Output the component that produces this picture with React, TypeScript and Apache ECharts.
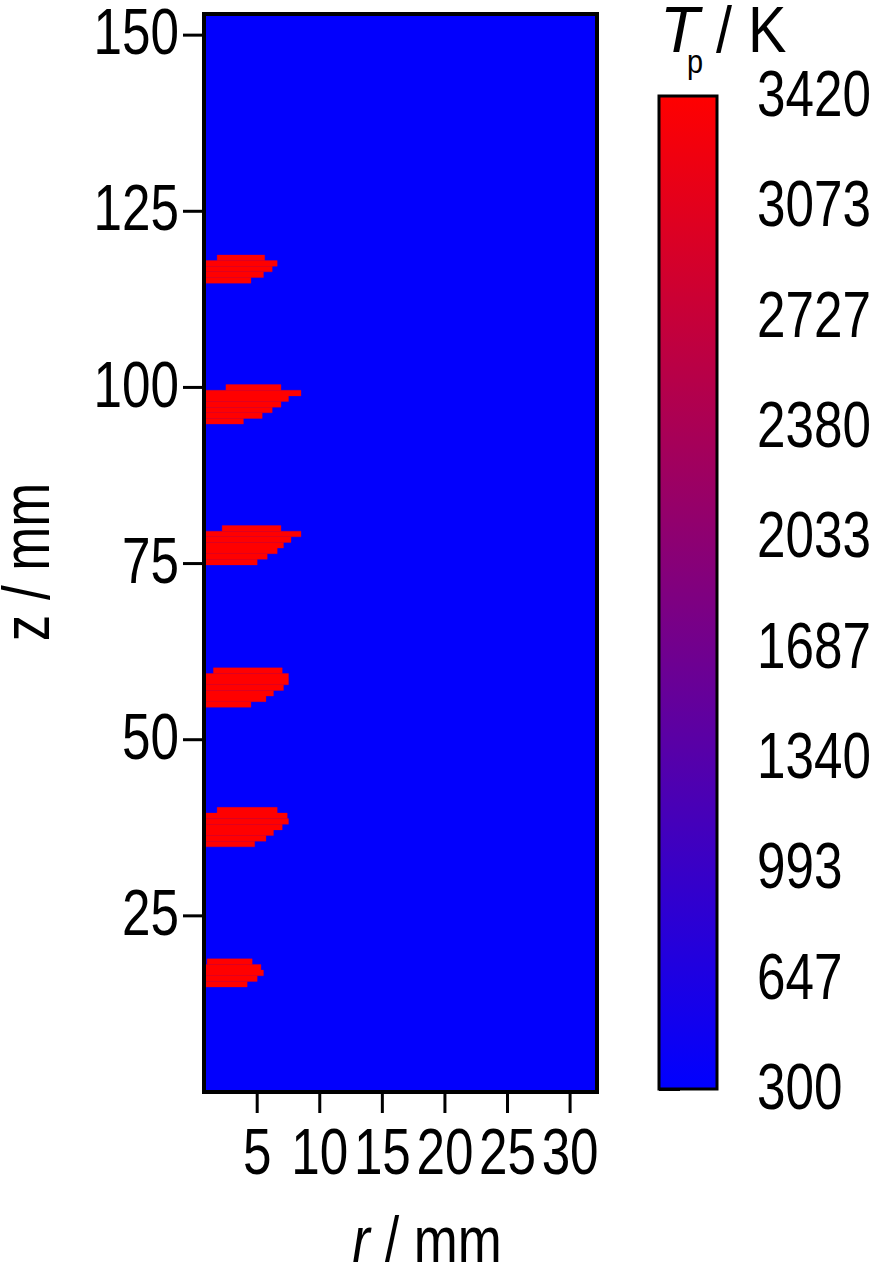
import React, { useEffect, useRef } from 'react';
import * as echarts from 'echarts';

const R_TICKS = [5, 10, 15, 20, 25, 30];
const Z_TICKS = [25, 50, 75, 100, 125, 150];
const CB_LABELS = ['300', '647', '993', '1340', '1687', '2033', '2380', '2727', '3073', '3420'];
const T_MIN = 300;
const T_MAX = 3420;
const T_BACKGROUND = 320;
const T_HOT = 3420;
const R_RANGE = [0.75, 32.15];
const Z_RANGE = [0, 153];
const ROW_DZ = 0.8;
// bottom z of each hot blob (mm)
const BLOB_Z0 = [14.9, 34.8, 54.6, 74.8, 94.8, 114.8];
// rows of each blob, bottom to top: [rStart, rEnd] (mm)
const BLOB_ROWS: number[][][] = [
  [[0.75, 4.2], [0.75, 5.0], [0.75, 5.5], [0.75, 5.3], [1.0, 4.6]],
  [[0.75, 4.8], [0.75, 5.7], [0.75, 6.3], [0.75, 7.0], [0.75, 7.5], [0.75, 7.4], [1.8, 6.6]],
  [[0.75, 4.5], [0.75, 5.7], [0.75, 6.3], [0.75, 7.1], [0.75, 7.5], [0.75, 7.5], [1.5, 7.0]],
  [[0.75, 5.0], [0.75, 5.8], [0.75, 6.6], [0.75, 7.1], [0.75, 7.7], [0.75, 8.5], [2.2, 6.9]],
  [[0.75, 3.9], [0.75, 5.4], [0.75, 6.2], [0.75, 6.9], [0.75, 7.5], [0.75, 8.5], [2.5, 6.9]],
  [[0.75, 4.5], [0.75, 5.5], [0.75, 6.2], [0.75, 6.6], [1.8, 5.6]],
];
const COLOR_LOW = '#0000ff';
const COLOR_HIGH = '#ff0000';

const FONT = '"Liberation Sans", Arial, sans-serif';
const NARROW = 0.8;
const FS = 64;

export default function App() {
  const ref = useRef<HTMLDivElement>(null);
  useEffect(() => {
    if (!ref.current) return;
    const chart = echarts.init(ref.current, undefined, { renderer: 'svg' });

    const cells: number[][] = [[R_RANGE[0], R_RANGE[1], Z_RANGE[0], Z_RANGE[1], T_BACKGROUND]];
    BLOB_ROWS.forEach((rows, b) => {
      rows.forEach((row, i) => {
        const z0 = BLOB_Z0[b] + i * ROW_DZ;
        cells.push([row[0], row[1], z0, z0 + ROW_DZ, T_HOT]);
      });
    });

    const axisLineStyle = { color: '#000', width: 3 };
    const plot = { left: 204, top: 14, width: 393, height: 1078 };
    const cb = { left: 659, top: 96, width: 58, height: 993 };
    const plotBottom = plot.top + plot.height;
    const plotLeft = plot.left;
    const cbRight = cb.left + cb.width;

    chart.setOption({
      animation: false,
      backgroundColor: '#fff',
      grid: [
        { ...plot, containLabel: false },
        { ...cb, containLabel: false },
      ],
      xAxis: [
        {
          type: 'value', gridIndex: 0, min: R_RANGE[0], max: R_RANGE[1],
          axisLine: { show: false }, axisTick: { show: false }, axisLabel: { show: false }, splitLine: { show: false },
        },
        { type: 'value', gridIndex: 1, min: 0, max: 1, show: false },
      ],
      yAxis: [
        {
          type: 'value', gridIndex: 0, min: Z_RANGE[0], max: Z_RANGE[1],
          axisLine: { show: false }, axisTick: { show: false }, axisLabel: { show: false }, splitLine: { show: false },
        },
        {
          type: 'value', gridIndex: 1, min: 0, max: CB_LABELS.length - 1, interval: 1, position: 'right',
          axisLine: { show: false },
          axisTick: { show: true, inside: false, length: 21, lineStyle: axisLineStyle },
          axisLabel: { show: false },
          splitLine: { show: false },
        },
      ],
      visualMap: {
        show: false, type: 'continuous', min: T_MIN, max: T_MAX, dimension: 4, seriesIndex: 0,
        inRange: { color: [COLOR_LOW, COLOR_HIGH] },
      },
      series: [
        {
          type: 'custom', xAxisIndex: 0, yAxisIndex: 0, clip: true,
          encode: { x: [0, 1], y: [2, 3] },
          data: cells,
          renderItem: (params: any, api: any) => {
            const p0 = api.coord([api.value(0), api.value(3)]);
            const p1 = api.coord([api.value(1), api.value(2)]);
            return {
              type: 'rect',
              shape: { x: p0[0], y: p0[1], width: p1[0] - p0[0], height: p1[1] - p0[1] },
              style: { fill: api.visual('color'), stroke: api.visual('color'), lineWidth: 0.3 },
            };
          },
        },
      ],
    });

    const graphics: any[] = [];
    const txt = (x: number, y: number, text: string, align: string, extra: any = {}, sx: number = NARROW) => ({
      type: 'text', z: 100, x, y, scaleX: sx,
      style: { text, fontSize: FS, fontFamily: FONT, fill: '#000', align, verticalAlign: 'middle', ...extra },
    });
    const line = (x1: number, y1: number, x2: number, y2: number) => ({
      type: 'line', z: 100, shape: { x1, y1, x2, y2 }, style: { stroke: '#000', lineWidth: 3 },
    });

    R_TICKS.forEach((v) => {
      const x = chart.convertToPixel({ xAxisIndex: 0 }, v) as number;
      graphics.push(line(x, plotBottom, x, plotBottom + 21));
      graphics.push(txt(x, plotBottom + 60, String(v), 'center'));
    });
    Z_TICKS.forEach((v) => {
      const y = chart.convertToPixel({ yAxisIndex: 0 }, v) as number;
      graphics.push(line(plotLeft - 21, y, plotLeft, y));
      graphics.push(txt(plotLeft - 25, y - 3, String(v), 'right'));
    });
    CB_LABELS.forEach((label, i) => {
      const y = chart.convertToPixel({ yAxisIndex: 1 }, i) as number;
      graphics.push(txt(cbRight + 40, y - 2, label, 'left'));
    });

    graphics.push(
      {
        type: 'rect', z: 100,
        shape: { x: plot.left, y: plot.top, width: plot.width, height: plot.height },
        style: { fill: 'none', stroke: '#000', lineWidth: 4 },
      },
      {
        type: 'rect', z: 100,
        shape: { x: cb.left, y: cb.top, width: cb.width, height: cb.height },
        style: {
          fill: new echarts.graphic.LinearGradient(0, 0, 0, 1, [
            { offset: 0, color: COLOR_HIGH },
            { offset: 1, color: COLOR_LOW },
          ]),
          stroke: '#000', lineWidth: 3,
        },
      },
      txt(660, 30, 'T', 'left', { fontStyle: 'italic' }, 1),
      txt(687, 61, 'p', 'left', { fontSize: 34 }, 0.85),
      txt(716, 30, '/ K', 'left', {}, 0.9),
      {
        type: 'text', z: 100, x: 427, y: 1240, scaleX: NARROW,
        style: {
          text: '{i|r}{n| / mm}', align: 'center', verticalAlign: 'middle',
          rich: {
            i: { fontSize: 66, fontStyle: 'italic', fontFamily: FONT, fill: '#000', color: '#000' },
            n: { fontSize: 66, fontFamily: FONT, fill: '#000', color: '#000' },
          },
        },
      },
      {
        type: 'text', z: 100, x: 26, y: 562, rotation: Math.PI / 2, scaleX: NARROW,
        style: { text: 'z / mm', fontSize: 66, fontFamily: FONT, fill: '#000', align: 'center', verticalAlign: 'middle' },
      },
    );

    chart.setOption({ graphic: graphics });
    return () => chart.dispose();
  }, []);
  return <div ref={ref} style={{ position: 'fixed', left: 0, top: 0, width: 877, height: 1262 }} />;
}
